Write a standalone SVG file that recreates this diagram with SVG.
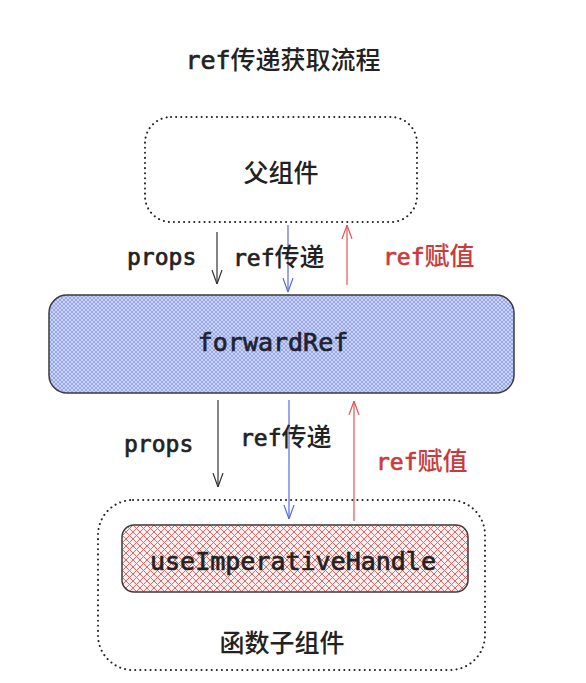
<svg xmlns="http://www.w3.org/2000/svg" width="586" height="683" viewBox="0 0 586 683">
<style>
.mono{font-family:"DejaVu Sans Mono","Liberation Mono",monospace;font-weight:normal;stroke:currentColor;stroke-width:0.7}
.cjk{font-family:"Noto Sans CJK SC","Noto Sans",sans-serif;font-weight:500}
.lbl{font-size:23px;fill:#222;color:#222}
.red{fill:#c93b3b;color:#c93b3b}
.dot{fill:none;stroke:#222;stroke-width:2;stroke-dasharray:0.1 5;stroke-linecap:round}
.solid{stroke:#3a3a3a;stroke-width:1.5}
</style>
<defs>
<pattern id="blueHatch" patternUnits="userSpaceOnUse" width="4" height="4">
<rect width="4" height="4" fill="#ccd4f6"/>
<path d="M0,4 L4,0 M-1,1 L1,-1 M3,5 L5,3" stroke="#93a1e6" stroke-width="0.9"/>
<path d="M0,0 L4,4 M-1,3 L1,5 M3,-1 L5,1" stroke="#93a1e6" stroke-width="0.9"/>
</pattern>
<pattern id="redHatch" patternUnits="userSpaceOnUse" width="7" height="7">
<rect width="7" height="7" fill="#fcefef"/>
<path d="M0,7 L7,0 M-1,1 L1,-1 M6,8 L8,6" stroke="#e06666" stroke-width="1"/>
<path d="M0,0 L7,7 M-1,6 L1,8 M6,-1 L8,1" stroke="#e06666" stroke-width="1"/>
</pattern>
<marker id="ahK" markerUnits="userSpaceOnUse" markerWidth="14" markerHeight="16" refX="14" refY="5" orient="auto" viewBox="0 0 14 10">
<path d="M0,0 L14,5 L0,10" fill="none" stroke="#333" stroke-width="1.2"/>
</marker>
<marker id="ahB" markerUnits="userSpaceOnUse" markerWidth="14" markerHeight="16" refX="14" refY="5" orient="auto" viewBox="0 0 14 10">
<path d="M0,0 L14,5 L0,10" fill="none" stroke="#5b6bd6" stroke-width="1.2"/>
</marker>
<marker id="ahR" markerUnits="userSpaceOnUse" markerWidth="14" markerHeight="16" refX="14" refY="5" orient="auto" viewBox="0 0 14 10">
<path d="M0,0 L14,5 L0,10" fill="none" stroke="#e05555" stroke-width="1.2"/>
</marker>
</defs>
<rect width="586" height="683" fill="#ffffff"/>
<g id="title">
<text x="283" y="69" text-anchor="middle" font-size="25" fill="#222" color="#222"><tspan class="mono">ref</tspan><tspan class="cjk">传递获取流程</tspan></text>
</g>
<g id="parent">
<rect class="dot" x="145" y="117" width="272" height="105" rx="26"/>
<text class="cjk" x="281" y="182" text-anchor="middle" font-size="25" fill="#222">父组件</text>
</g>
<g id="forwardRef">
<rect x="49" y="295" width="465" height="98" rx="18" fill="url(#blueHatch)" class="solid"/>
<text class="mono" x="273" y="351" text-anchor="middle" font-size="25" fill="#1e2233" color="#1e2233">forwardRef</text>
</g>
<g id="child">
<rect class="dot" x="98" y="500" width="387" height="170" rx="35"/>
<text class="cjk" x="282" y="652" text-anchor="middle" font-size="25" fill="#222">函数子组件</text>
</g>
<g id="useImperativeHandle">
<rect x="122" y="525" width="346" height="67" rx="12" fill="url(#redHatch)" class="solid"/>
<text class="mono" x="293" y="570" text-anchor="middle" font-size="25" fill="#222" color="#222">useImperativeHandle</text>
</g>
<g id="connectors" fill="none" stroke-width="1.2">
<line x1="217" y1="232" x2="217" y2="284" stroke="#333" marker-end="url(#ahK)"/>
<line x1="288" y1="225" x2="288" y2="292" stroke="#5b6bd6" marker-end="url(#ahB)"/>
<line x1="347" y1="285" x2="347" y2="225" stroke="#e05555" marker-end="url(#ahR)"/>
<line x1="218" y1="400" x2="218" y2="487" stroke="#333" marker-end="url(#ahK)"/>
<line x1="289" y1="400" x2="289" y2="519" stroke="#5b6bd6" marker-end="url(#ahB)"/>
<line x1="354" y1="521" x2="354" y2="401" stroke="#e05555" marker-end="url(#ahR)"/>
</g>
<g id="labels">
<text class="lbl" x="127" y="265"><tspan class="mono">props</tspan></text>
<text class="lbl" x="233" y="266"><tspan class="mono">ref</tspan><tspan class="cjk" font-size="25">传递</tspan></text>
<text class="lbl red" x="383" y="265"><tspan class="mono">ref</tspan><tspan class="cjk" font-size="25">赋值</tspan></text>
<text class="lbl" x="124" y="452"><tspan class="mono">props</tspan></text>
<text class="lbl" x="240" y="446"><tspan class="mono">ref</tspan><tspan class="cjk" font-size="25">传递</tspan></text>
<text class="lbl red" x="376" y="470"><tspan class="mono">ref</tspan><tspan class="cjk" font-size="25">赋值</tspan></text>
</g>
</svg>
